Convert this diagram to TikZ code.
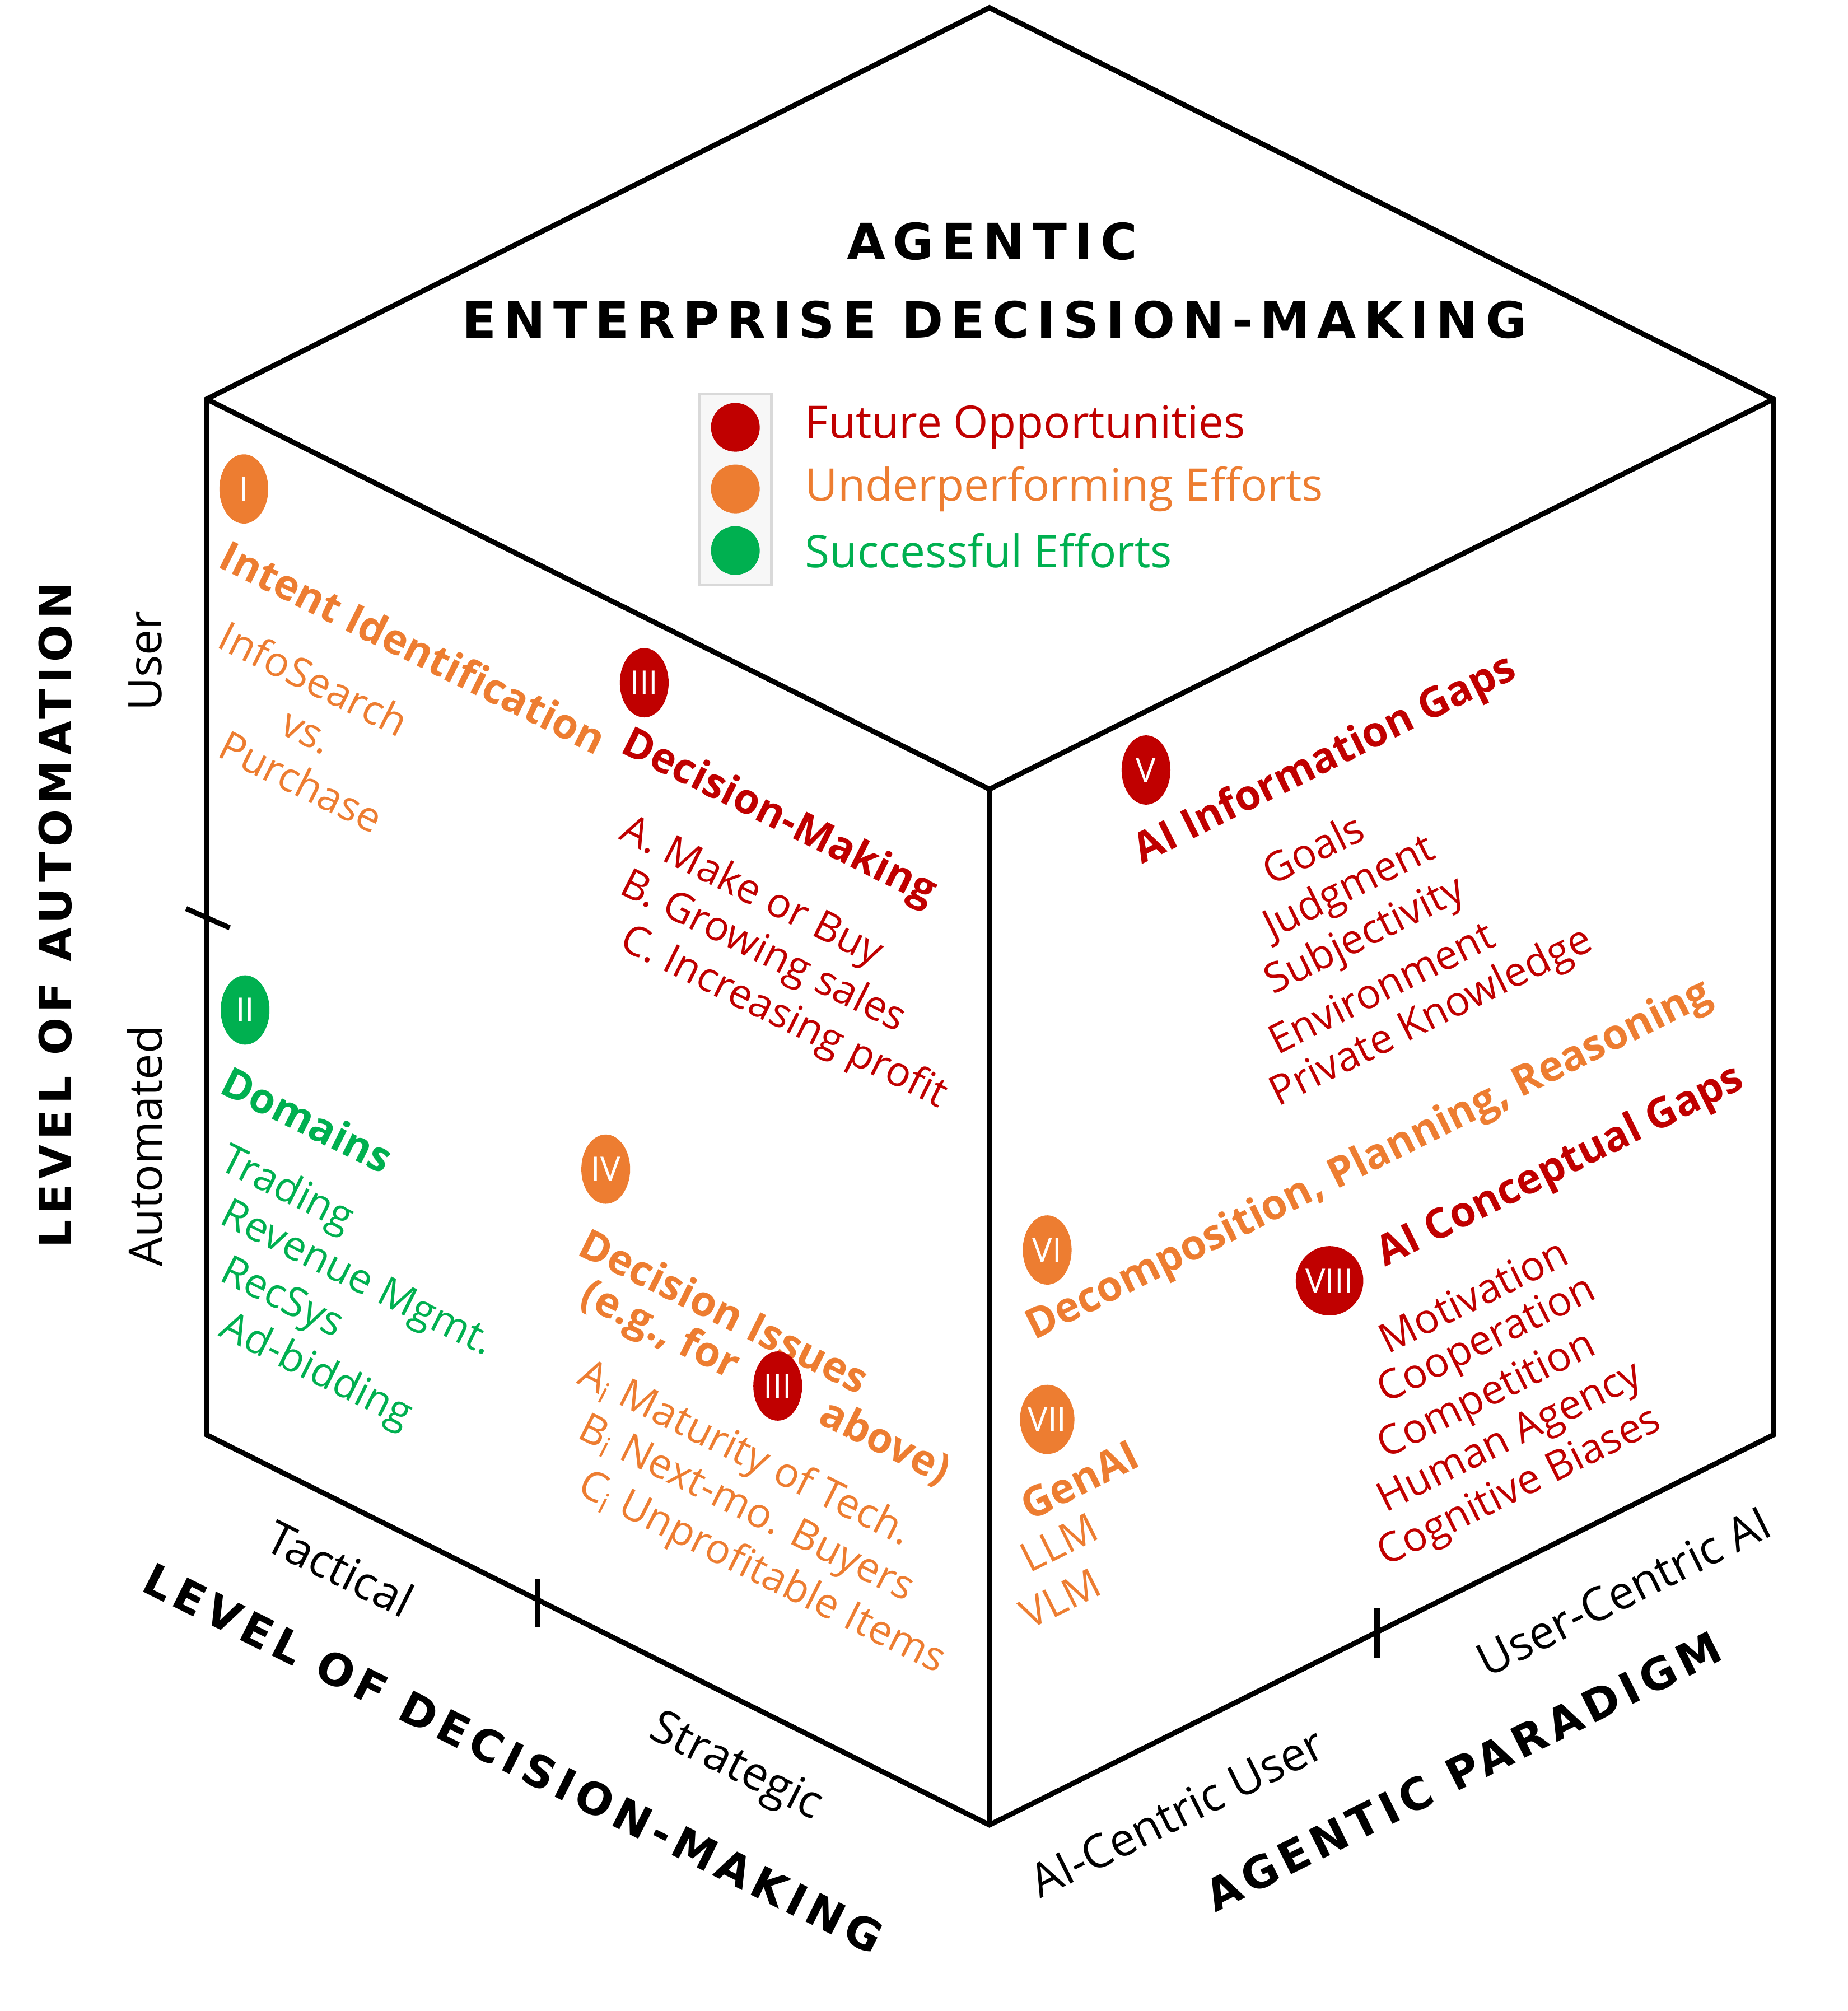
\documentclass[tikz,border=0pt]{standalone}
\usepackage{fontspec}
\setmainfont{Open Sans}
\newfontfamily\ttlfont[LetterSpace=12]{DejaVu Sans}
\newfontfamily\bigttlfont[LetterSpace=15]{DejaVu Sans}
\usetikzlibrary{shapes.geometric}
\definecolor{cR}{HTML}{C00000}
\definecolor{cO}{HTML}{ED7D31}
\definecolor{cG}{HTML}{00B050}
\begin{document}
\begin{tikzpicture}[x=0.5pt,y=-0.5pt,
  edge/.style={line width=2pt,black},
  tx/.style={inner sep=0,anchor=west,font=\fontsize{16}{18}\selectfont},
  bx/.style={inner sep=0,anchor=west,font=\fontsize{16.3}{18}\selectfont\bfseries},
  ttl/.style={inner sep=0,font=\ttlfont\bfseries\fontsize{17.2}{20}\selectfont},
  bigttl/.style={inner sep=0,font=\bigttlfont\bfseries\fontsize{19.5}{22}\selectfont},
  ax/.style={inner sep=0,font=\fontsize{18}{20}\selectfont},
  L/.style={rotate=-26.5},
  R/.style={rotate=26.5},
  bub/.style={ellipse,fill=#1,minimum width=19pt,minimum height=27pt,inner sep=0,text=white,font=\fontsize{13}{14}\selectfont},
  dot/.style={circle,fill=#1,minimum size=19pt,inner sep=0}]
\useasboundingbox (0,0) rectangle (1440,1567);
% cube
\coordinate (T) at (771,6);
\coordinate (TL) at (161,311);
\coordinate (TR) at (1382,311);
\coordinate (C) at (771,615);
\coordinate (BL) at (161,1118);
\coordinate (BR) at (1382,1118);
\coordinate (B) at (771,1422);
\draw[edge,line join=miter] (T) -- (TR) -- (BR) -- (B) -- (BL) -- (TL) -- cycle;
\draw[edge] (TL) -- (C) -- (TR);
\draw[edge] (C) -- (B);
% ticks
\coordinate (t1a) at (145,708); \coordinate (t1b) at (179,723);
\draw[edge] (t1a) -- (t1b);
\coordinate (t2a) at (419,1230); \coordinate (t2b) at (419,1268);
\draw[edge] (t2a) -- (t2b);
\coordinate (t3a) at (1073,1253); \coordinate (t3b) at (1073,1292);
\draw[edge] (t3a) -- (t3b);
% title
\node[bigttl] (ti1) at (773,188) {AGENTIC};
\node[bigttl] (ti2) at (775,249) {ENTERPRISE DECISION-MAKING};
% legend
\node[draw=black!15,line width=1pt,fill=black!3,minimum width=28pt,minimum height=74.5pt,inner sep=0] (lg) at (573,381.5) {};
\node[dot=cR] (d1) at (573,333) {};
\node[dot=cO] (d2) at (573,381) {};
\node[dot=cG] (d3) at (573,429) {};
\node[tx,text=cR,font=\fontsize{17.5}{20}\selectfont] (l1) at (627,333) {Future Opportunities};
\node[tx,text=cO,font=\fontsize{17.5}{20}\selectfont] (l2) at (627,381) {Underperforming Efforts};
\node[tx,text=cG,font=\fontsize{17.5}{20}\selectfont] (l3) at (627,429) {Successful Efforts};
% left face
\node[bub=cO] (bI) at (190,381) {I};
\node[bx,L,text=cO] (n1) at (174,430) {Intent Identification};
\node[tx,L,text=cO] (n1a) at (173,493) {InfoSearch};
\node[tx,L,text=cO] (n1b) at (220,563) {vs.};
\node[tx,L,text=cO] (n1c) at (173,578) {Purchase};
\node[bub=cG] (bII) at (191,787) {II};
\node[bx,L,text=cG] (n2) at (175,840) {Domains};
\node[tx,L,text=cG] (n2a) at (173,903) {Trading};
\node[tx,L,text=cG] (n2b) at (173,946) {Revenue Mgmt.};
\node[tx,L,text=cG] (n2c) at (173,990) {RecSys};
\node[tx,L,text=cG] (n2d) at (173,1033) {Ad-bidding};
\node[bub=cR] (bIII) at (502,532) {III};
\node[bx,L,text=cR] (n3) at (486,578) {Decision-Making};
\node[tx,L,text=cR] (n3a) at (485,646) {A. Make or Buy};
\node[tx,L,text=cR] (n3b) at (485,688) {B. Growing sales};
\node[tx,L,text=cR] (n3c) at (485,731) {C. Increasing profit};
\node[bub=cO] (bIV) at (472,911) {IV};
\node[bx,L,text=cO] (n4) at (454,966) {Decision Issues};
\node[bx,L,text=cO] (n4x) at (454,1008) {(e.g., for\hspace{2.3em}above)};
\node[bub=cR] (bIIIb) at (606,1080) {III};
\node[tx,L,text=cO] (n4a) at (452,1070) {A$_\mathrm{i}$ Maturity of Tech.};
\node[tx,L,text=cO] (n4b) at (452,1113) {B$_\mathrm{i}$ Next-mo. Buyers};
\node[tx,L,text=cO] (n4c) at (452,1156) {C$_\mathrm{i}$ Unprofitable Items};
% right face
\node[bub=cR] (bV) at (893,600) {V};
\node[bx,R,text=cR] (n5) at (886,666) {AI Information Gaps};
\node[tx,R,text=cR] (n5a) at (985,680) {Goals};
\node[tx,R,text=cR] (n5b) at (987,725) {Judgment};
\node[tx,R,text=cR] (n5c) at (988,768) {Subjectivity};
\node[tx,R,text=cR] (n5d) at (990,812) {Environment};
\node[tx,R,text=cR] (n5e) at (992,855) {Private Knowledge};
\node[bub=cO] (bVI) at (816,974) {VI};
\node[bx,R,text=cO] (n6) at (802,1037) {Decomposition, Planning, Reasoning};
\node[bub=cO] (bVII) at (816,1106) {VII};
\node[bx,R,text=cO] (n7) at (797,1175) {GenAI};
\node[tx,R,text=cO] (n7a) at (797,1216) {LLM};
\node[tx,R,text=cO] (n7b) at (797,1260) {VLM};
\node[bub=cR] (bVIII) at (1036,998) {VIII};
\node[bx,R,text=cR] (n8) at (1075,980) {AI Conceptual Gaps};
\node[tx,R,text=cR] (n8a) at (1076,1045) {Motivation};
\node[tx,R,text=cR] (n8b) at (1076,1087) {Cooperation};
\node[tx,R,text=cR] (n8c) at (1076,1130) {Competition};
\node[tx,R,text=cR] (n8d) at (1076,1172) {Human Agency};
\node[tx,R,text=cR] (n8e) at (1076,1214) {Cognitive Biases};
% axes
\node[ttl,rotate=90] (a1) at (43,713) {LEVEL OF AUTOMATION};
\node[ax,rotate=90] (a1u) at (113,515) {User};
\node[ax,rotate=90] (a1a) at (113,893) {Automated};
\node[ax,L] (a2t) at (265,1222) {Tactical};
\node[ax,L] (a2s) at (573,1378) {Strategic};
\node[ttl,L] (a2) at (400,1370) {LEVEL OF DECISION-MAKING};
\node[ax,R] (a3a) at (917,1412) {AI-Centric User};
\node[ax,R] (a3u) at (1265,1240) {User-Centric AI};
\node[ttl,R] (a3) at (1140,1380) {AGENTIC PARADIGM};
\end{tikzpicture}
\end{document}
